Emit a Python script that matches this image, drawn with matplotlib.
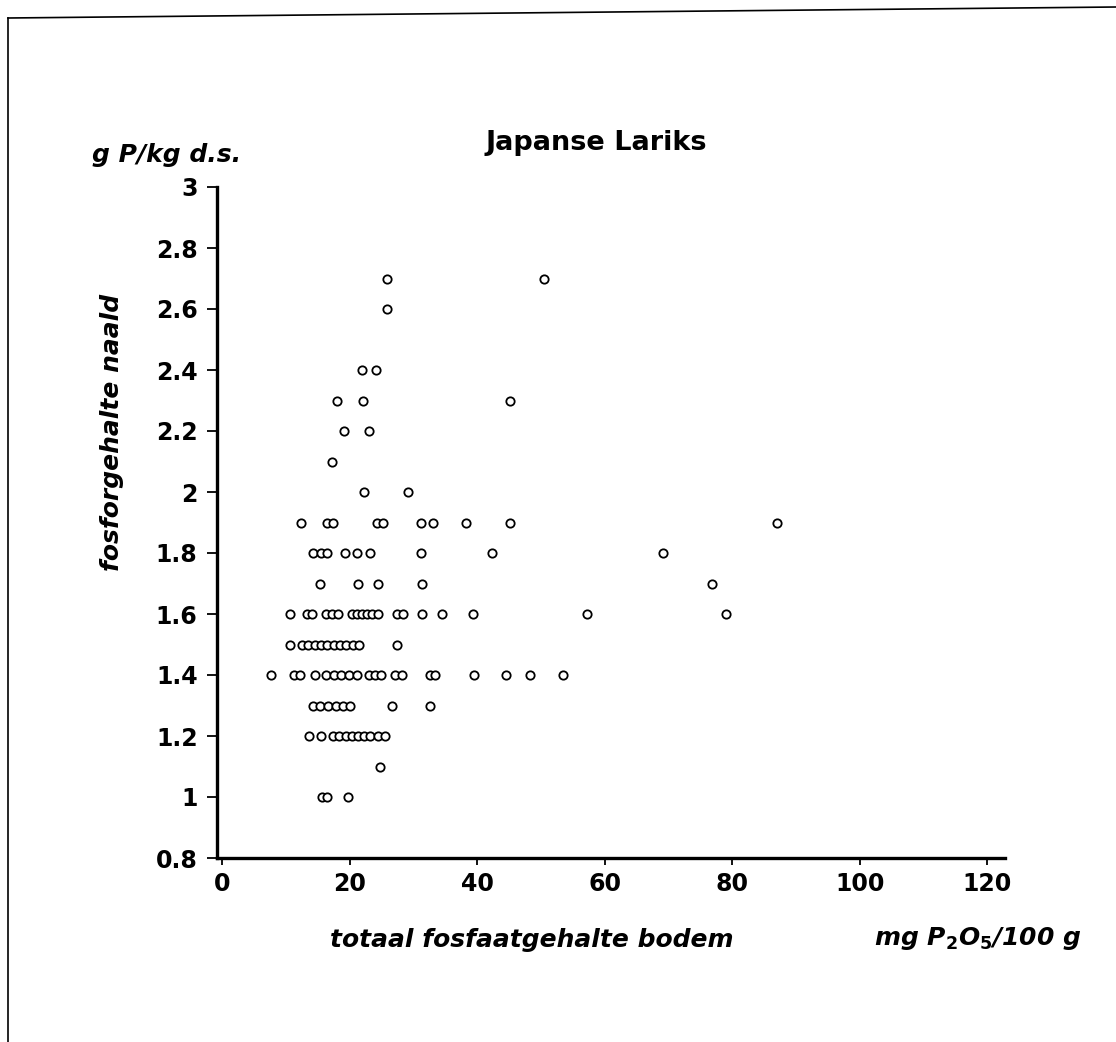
import numpy as np
import matplotlib
matplotlib.use("Agg")
import matplotlib.pyplot as plt
from matplotlib.lines import Line2D

plt.rcParams['font.family'] = ['DejaVu Sans']

# punten per fosforniveau (naald), x = totaal fosfaatgehalte bodem
rij_27 = [25.9, 50.5]
rij_26 = [25.9]
rij_24 = [22.0, 24.1]
rij_23 = [18.1, 22.1, 45.2]
rij_22 = [19.1, 23.1]
rij_21 = [17.3]
rij_20 = [22.2, 29.1]
rij_19 = [12.3, 16.4, 17.4, 24.3, 25.3, 31.2, 33.1, 38.2, 45.2, 87.1]
rij_18 = [14.2, 15.5, 16.5, 19.3, 21.2, 23.2, 31.2, 42.3, 69.2]
rij_17 = [15.4, 21.3, 24.4, 31.3, 76.9]
rij_16 = [10.6, 13.3, 14.1, 16.3, 17.2, 18.2, 20.3, 21.1, 21.9, 22.7, 23.5,
          24.5, 27.4, 28.4, 31.4, 34.5, 39.3, 57.3, 79.0]
rij_15 = [10.7, 12.5, 13.5, 14.5, 15.5, 16.5, 17.5, 18.5, 19.5, 20.5, 21.5, 27.4]
rij_14 = [7.6, 11.2, 12.2, 14.6, 16.3, 17.5, 18.7, 19.9, 21.1, 23.0, 24.0,
          25.0, 27.1, 28.2, 32.6, 33.4, 39.5, 44.5, 48.3, 53.4]
rij_13 = [14.2, 15.4, 16.6, 17.8, 19.0, 20.1, 26.6, 32.6]
rij_12 = [13.7, 15.5, 17.4, 18.4, 19.4, 20.3, 21.3, 22.3, 23.2, 24.5, 25.6]
rij_11 = [24.8]
rij_10 = [15.6, 16.4, 19.7]

niveaus = [2.7, 2.6, 2.4, 2.3, 2.2, 2.1, 2.0, 1.9, 1.8, 1.7, 1.6, 1.5, 1.4, 1.3, 1.2, 1.1, 1.0]
rijen = [rij_27, rij_26, rij_24, rij_23, rij_22, rij_21, rij_20, rij_19, rij_18,
         rij_17, rij_16, rij_15, rij_14, rij_13, rij_12, rij_11, rij_10]

xticks = [0, 20, 40, 60, 80, 100, 120]
yticks = [0.8, 1, 1.2, 1.4, 1.6, 1.8, 2, 2.2, 2.4, 2.6, 2.8, 3]
ylabels = ['0.8', '1', '1.2', '1.4', '1.6', '1.8', '2', '2.2', '2.4', '2.6', '2.8', '3']

x = []
y = []
for niv, rij in zip(niveaus, rijen):
    x += rij
    y += [niv] * len(rij)

fig = plt.figure(figsize=(11.16, 10.42), dpi=100)
ax = fig.add_axes([217/1116, 184/1042, (1005-217)/1116, (858-187)/1042])

ax.plot(x, y, 'o', ms=6, mfc='white', mec='black', mew=1.3, ls='none')

ax.set_xlim(-0.8, 122.8)
ax.set_ylim(0.8, 3.0)
ax.set_xticks(xticks)
ax.set_yticks(yticks)
ax.set_yticklabels(ylabels)
for s in ['top', 'right']:
    ax.spines[s].set_visible(False)
for s in ['left', 'bottom']:
    ax.spines[s].set_linewidth(2.4)
ax.tick_params(axis='y', direction='out', length=7, width=1.3, pad=7, labelsize=17)
ax.tick_params(axis='x', direction='out', length=5, width=1.3, pad=5, labelsize=17)
for lab in ax.get_xticklabels() + ax.get_yticklabels():
    lab.set_fontweight('bold')

fig.text(596/1116, 1 - 143/1042, 'Japanse Lariks', ha='center', va='center',
         fontsize=19.5, fontweight='bold')
fig.text(92/1116, 1 - 155/1042, 'g P/kg d.s.', ha='left', va='center',
         fontsize=18, fontweight='bold', style='italic')
fig.text(112/1116, 1 - 432/1042, 'fosforgehalte naald', ha='center', va='center',
         rotation=90, fontsize=18, fontweight='bold', style='italic')
fig.text(532/1116, 1 - 940/1042, 'totaal fosfaatgehalte bodem', ha='center', va='center',
         fontsize=18, fontweight='bold', style='italic')
fig.text(1082/1116, 1 - 938/1042, r'mg P$_{\mathbf{2}}$O$_{\mathbf{5}}$/100 g', ha='right', va='center',
         fontsize=18, fontweight='bold', style='italic')

# kader van de scan
fig.add_artist(Line2D([8/1116, 8/1116], [0, 1 - 18/1042], color='black', lw=1.2))
fig.add_artist(Line2D([8/1116, 1], [1 - 18/1042, 1 - 7/1042], color='black', lw=1.2))

fig.savefig('out.png', dpi=100)
